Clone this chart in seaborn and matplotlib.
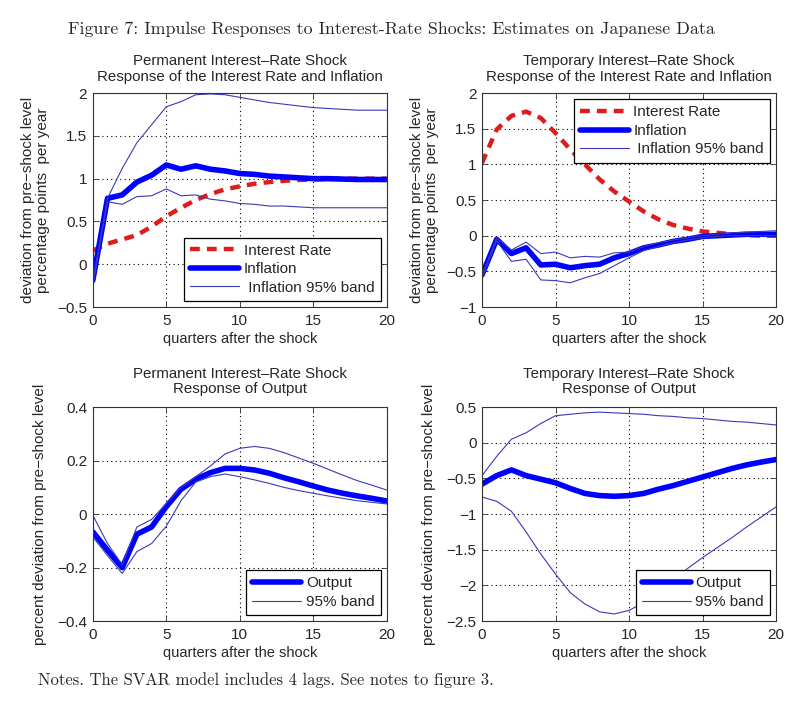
import numpy as np
import pandas as pd
import matplotlib
matplotlib.use('Agg')
import matplotlib.pyplot as plt
import seaborn as sns

# quarters after the shock
quarters = list(range(21))

# permanent shock: interest rate and inflation
perm_rate = [0.16, 0.24, 0.29, 0.34, 0.44, 0.56, 0.66, 0.75, 0.82, 0.875, 0.91,
             0.94, 0.96, 0.975, 0.985, 0.99, 0.995, 1.0, 1.0, 1.0, 1.0]
perm_infl = [-0.19, 0.77, 0.81, 0.96, 1.04, 1.16, 1.11, 1.15, 1.11, 1.09, 1.06,
             1.05, 1.03, 1.02, 1.01, 1.0, 1.0, 0.995, 0.99, 0.99, 0.99]
perm_infl_hi = [-0.2, 0.77, 1.12, 1.42, 1.63, 1.84, 1.9, 1.98, 1.99, 1.98, 1.95,
                1.92, 1.89, 1.87, 1.85, 1.83, 1.82, 1.81, 1.8, 1.8, 1.8]
perm_infl_lo = [-0.25, 0.73, 0.70, 0.79, 0.80, 0.88, 0.80, 0.81, 0.76, 0.74, 0.71,
                0.70, 0.68, 0.68, 0.67, 0.66, 0.66, 0.66, 0.66, 0.66, 0.66]

# temporary shock: interest rate and inflation
temp_rate = [1.02, 1.49, 1.68, 1.74, 1.65, 1.44, 1.21, 1.0, 0.79, 0.62, 0.48,
             0.34, 0.23, 0.15, 0.10, 0.06, 0.04, 0.02, 0.01, 0.0, 0.0]
temp_infl = [-0.55, -0.05, -0.25, -0.17, -0.41, -0.40, -0.45, -0.42, -0.40, -0.31, -0.25,
             -0.17, -0.13, -0.08, -0.05, -0.01, 0.0, 0.01, 0.02, 0.02, 0.02]
temp_infl_hi = [-0.55, -0.03, -0.2, -0.09, -0.25, -0.23, -0.31, -0.29, -0.30, -0.24, -0.23,
                -0.15, -0.1, -0.06, -0.03, 0.0, 0.02, 0.04, 0.05, 0.06, 0.07]
temp_infl_lo = [-0.6, -0.07, -0.36, -0.33, -0.62, -0.63, -0.66, -0.59, -0.53, -0.42, -0.31,
                -0.21, -0.15, -0.1, -0.06, -0.03, -0.01, 0.0, 0.0, 0.0, 0.0]

# permanent shock: output
perm_out = [-0.066, -0.135, -0.2, -0.075, -0.048, 0.028, 0.093, 0.13, 0.155, 0.171, 0.171,
            0.165, 0.153, 0.136, 0.121, 0.105, 0.09, 0.078, 0.068, 0.059, 0.049]
perm_out_hi = [-0.004, -0.11, -0.19, -0.048, -0.02, 0.04, 0.1, 0.14, 0.18, 0.225, 0.246,
               0.253, 0.246, 0.23, 0.21, 0.19, 0.168, 0.146, 0.125, 0.108, 0.09]
perm_out_lo = [-0.085, -0.155, -0.222, -0.14, -0.11, -0.045, 0.05, 0.12, 0.14, 0.15, 0.14,
               0.128, 0.115, 0.1, 0.088, 0.078, 0.068, 0.059, 0.05, 0.044, 0.038]

# temporary shock: output
temp_out = [-0.58, -0.46, -0.38, -0.46, -0.51, -0.56, -0.64, -0.71, -0.74, -0.75, -0.74,
            -0.71, -0.65, -0.6, -0.54, -0.48, -0.42, -0.36, -0.31, -0.27, -0.235]
temp_out_hi = [-0.46, -0.19, 0.05, 0.14, 0.27, 0.38, 0.4, 0.42, 0.43, 0.42, 0.41,
               0.40, 0.38, 0.37, 0.35, 0.34, 0.32, 0.3, 0.29, 0.27, 0.25]
temp_out_lo = [-0.76, -0.82, -0.96, -1.25, -1.56, -1.84, -2.1, -2.26, -2.37, -2.4, -2.35,
               -2.24, -2.09, -1.91, -1.76, -1.61, -1.47, -1.33, -1.18, -1.04, -0.9]

sns.set_style('ticks')
plt.rcParams['font.family'] = ['Liberation Sans', 'DejaVu Sans']
plt.rcParams['axes.unicode_minus'] = True

RED = '#dd1c1c'
BLUE = '#0000ff'
BAND = '#3a3ab8'
FS = 10.5

fig = plt.figure(figsize=(8, 7.05), dpi=100)
w, h = 0.3675, 0.3035
ax_tl = fig.add_axes([0.116, 0.5645, w, h])
ax_tr = fig.add_axes([0.6025, 0.5645, w, h])
ax_bl = fig.add_axes([0.116, 0.119, w, h])
ax_br = fig.add_axes([0.6025, 0.119, w, h])


def style(ax, title, ylim, yticks, ylabel, ylab_x, tpad):
    ax.set_xlim(0, 20)
    ax.set_ylim(*ylim)
    ax.set_xticks([0, 5, 10, 15, 20])
    ax.set_yticks(yticks)
    ax.set_yticklabels([('%g' % t).replace('-', '\u2212') for t in yticks])
    ax.tick_params(direction='in', length=4, labelsize=FS + 0.5, top=True, right=True,
                   width=0.6, color='#333333', pad=4)
    ax.tick_params(axis='x', pad=5)
    ax.grid(True, linestyle=(0, (1, 3)), color='black', linewidth=0.8)
    for s in ax.spines.values():
        s.set_linewidth(0.8)
        s.set_color('#333333')
    ax.set_title(title, fontsize=FS + 0.3, pad=tpad, linespacing=1.15)
    ax.set_xlabel('quarters after the shock', fontsize=FS, labelpad=3)
    ax.set_ylabel(ylabel, fontsize=FS + 0.5, linespacing=1.15)
    ax.yaxis.set_label_coords(ylab_x, 0.5)


def leg(ax, loc):
    l = ax.legend(loc=loc, fontsize=FS + 0.5, frameon=True, fancybox=False, framealpha=1,
                  edgecolor='black', borderpad=0.4, handlelength=3.2, handletextpad=0.3,
                  labelspacing=0.3, borderaxespad=0.4)
    l.get_frame().set_linewidth(0.9)


def rate_panel(ax, rate, infl, hi, lo):
    sns.lineplot(x=quarters, y=rate, ax=ax, color=RED, lw=3.2,
                 linestyle=(0, (2.2, 1.6)), label='Interest Rate')
    sns.lineplot(x=quarters, y=infl, ax=ax, color=BLUE, lw=4, label='Inflation')
    sns.lineplot(x=quarters, y=hi, ax=ax, color=BAND, lw=0.8, label=' Inflation 95% band')
    sns.lineplot(x=quarters, y=lo, ax=ax, color=BAND, lw=0.8)


def output_panel(ax, out, hi, lo):
    sns.lineplot(x=quarters, y=out, ax=ax, color=BLUE, lw=4, label='Output')
    sns.lineplot(x=quarters, y=hi, ax=ax, color=BAND, lw=0.8, label='95% band')
    sns.lineplot(x=quarters, y=lo, ax=ax, color=BAND, lw=0.8)


ylab_top = 'deviation from pre\u2212shock level\npercentage points  per year'
ylab_bot = 'percent deviation from pre\u2212shock level'

rate_panel(ax_tl, perm_rate, perm_infl, perm_infl_hi, perm_infl_lo)
style(ax_tl, 'Permanent Interest\u2013Rate Shock\nResponse of the Interest Rate and Inflation',
      (-0.5, 2), [-0.5, 0, 0.5, 1, 1.5, 2], ylab_top, -0.145, 9)
leg(ax_tl, 'lower right')

rate_panel(ax_tr, temp_rate, temp_infl, temp_infl_hi, temp_infl_lo)
style(ax_tr, 'Temporary Interest\u2013Rate Shock\nResponse of the Interest Rate and Inflation',
      (-1, 2), [-1, -0.5, 0, 0.5, 1, 1.5, 2], ylab_top, -0.145, 9)
leg(ax_tr, 'upper right')

output_panel(ax_bl, perm_out, perm_out_hi, perm_out_lo)
style(ax_bl, 'Permanent Interest\u2013Rate Shock\nResponse of Output',
      (-0.4, 0.4), [-0.4, -0.2, 0, 0.2, 0.4], ylab_bot, -0.155, 10)
leg(ax_bl, 'lower right')

output_panel(ax_br, temp_out, temp_out_hi, temp_out_lo)
style(ax_br, 'Temporary Interest\u2013Rate Shock\nResponse of Output',
      (-2.5, 0.5), [-2.5, -2, -1.5, -1, -0.5, 0, 0.5], ylab_bot, -0.155, 10)
leg(ax_br, 'lower right')

serif = ['cmr10', 'DejaVu Serif']
fig.text(0.489, 1 - 29 / 705, 'Figure 7: Impulse Responses to Interest-Rate Shocks: Estimates on Japanese Data',
         ha='center', va='center', fontsize=12.9, family=serif)
fig.text(38 / 800, 1 - 680 / 705, 'Notes. The SVAR model includes 4 lags. See notes to figure 3.',
         ha='left', va='center', fontsize=12, family=serif)

fig.savefig('out.png', dpi=100, facecolor='white')
